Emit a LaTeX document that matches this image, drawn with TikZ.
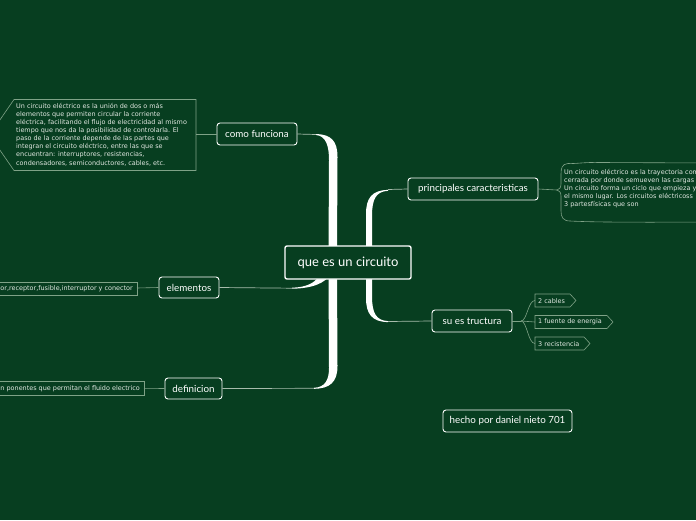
\documentclass[tikz,border=0pt]{standalone}
\usepackage{fontspec}
\setmainfont{Lato}
\newfontfamily\descfont{DejaVu Sans}
\usetikzlibrary{shapes.symbols}
\definecolor{bg}{HTML}{073E20}
\definecolor{edge}{HTML}{7FA287}
\definecolor{desctext}{HTML}{E2E8E2}
\definecolor{conn}{HTML}{A8BCAC}
\begin{document}
\begin{tikzpicture}[x=1pt,y=-1pt,
  topic/.style={draw=white, line width=0.9pt, rounded corners=3pt, fill=bg, text=white,
    font=\fontsize{9.8}{10}\selectfont, minimum height=22pt, inner sep=2pt},
  desc/.style={text=desctext, font=\descfont\fontsize{6.45}{8.1}\selectfont, align=left, inner sep=0pt},
  boxline/.style={draw=edge, line width=0.6pt},
  thin/.style={draw=conn, line width=0.7pt},
  trunk/.style={fill=white}]
\fill[bg] (0,0) rectangle (696,520);
\useasboundingbox (0,0) rectangle (696,520);

% coordinates for trunk ends
\coordinate (cfj) at (316,134.5);
\coordinate (dfj) at (314,388.3);
\coordinate (elj) at (292,288.2);
\coordinate (pcj) at (388,189.5);
\coordinate (stj) at (388,321.5);

% trunks
\fill[trunk] (316,134.1) .. controls (331,134.2) and (337.5,141) .. (337.5,157) -- (337,252) -- (328.5,252)
  -- (329,160) .. controls (329,146) and (326,135.8) .. (316,135) -- cycle;
\fill[trunk] (328.5,272) -- (337,272) -- (337.5,366) .. controls (337.5,382) and (330,388.6) .. (314,388.8)
  -- (314,387.8) .. controls (325,387.4) and (329,380) .. (329,368) -- cycle;
\fill[trunk] (330,274) .. controls (326,283) and (312,288.5) .. (292,288.7) -- (292,287.7)
  .. controls (306,287.4) and (316,283) .. (320,274) -- cycle;
\fill[trunk] (366,252) -- (366,214) .. controls (366,198) and (372,190.2) .. (388,189.9) -- (388,190.8)
  .. controls (376,191.5) and (372,199) .. (372,216) -- (372,252) -- cycle;
\fill[trunk] (366,272) -- (366,298) .. controls (366,314) and (372,321.8) .. (388,322.1) -- (388,321.1)
  .. controls (376,320.5) and (372,313) .. (372,296) -- (372,272) -- cycle;

% central node
\node[topic, line width=1.4pt, rounded corners=2pt, minimum width=126pt, minimum height=33pt,
  font=\fontsize{13}{14}\selectfont] (c) at (348,262.5) {que es un circuito};

% main topics
\node[topic, minimum width=80pt] (cf) at (257,134) {como funciona};
\node[topic, minimum width=130pt] (pc) at (473,189) {principales caracteristicas};
\node[topic, minimum width=60pt, minimum height=21pt] (el) at (189,287.5) {elementos};
\node[topic, minimum width=80pt] (st) at (472,321) {su es tructura};
\node[topic, minimum width=57pt, minimum height=21pt] (df) at (193.5,388.5) {definicion};
\node[topic, minimum width=129pt] (hp) at (507.5,421) {hecho por daniel nieto 701};

\draw[thin] (cf.east) -- (cfj);
\draw[thin] (df.east) -- (dfj);
\draw[thin] (el.east) -- (elj);
\draw[thin] (pcj) -- (pc.west);
\draw[thin] (stj) -- (st.west);

% description: como funciona
\draw[boxline] (14,99.5) -- (196,99.5) -- (196,170.5) -- (14,170.5) -- (-10.5,135) -- cycle;
\node[desc, anchor=north west] (d1) at (16,103) {Un circuito eléctrico es la unión de dos o más\\
elementos que permiten circular la corriente\\
eléctrica, facilitando el flujo de electricidad al mismo\\
tiempo que nos da la posibilidad de controlarla. El\\
paso de la corriente depende de las partes que\\
integran el circuito eléctrico, entre las que se\\
encuentran: interruptores, resistencias,\\
condensadores, semiconductores, cables, etc.};
\coordinate (d1r) at (196,134);
\draw[boxline] (cf.west) -- (d1r);

% description: principales caracteristicas
\draw[boxline] (710,163) -- (600,162.5) .. controls (585,162) and (575,164) .. (568,163.5)
  .. controls (562,164) and (561,168) .. (561,174) -- (561,184) .. controls (561,188) and (559,189.5) .. (557,190)
  .. controls (559,190.5) and (561,192) .. (561,196) -- (561,211) .. controls (561,217) and (563,221) .. (570,221)
  .. controls (590,222) and (620,222.5) .. (710,222);
\node[desc, anchor=north west] (d2) at (564,169.2) {Un circuito eléctrico es la trayectoria com\\
cerrada por donde semueven las cargas\\
Un circuito forma un ciclo que empieza y\\
el mismo lugar. Los circuitos eléctricoss\\
3 partesfísicas que son};
\coordinate (d2l) at (557,190);
\draw[boxline] (pc.east) -- (d2l);

% description: elementos
\draw[boxline] (-3,282) rectangle (137,295);
\node[desc, anchor=east] (d3) at (133,288.7) {or,receptor,fusible,interruptor y conector};
\coordinate (d3r) at (137,288);
\draw[boxline] (el.west) -- (d3r);

% description: definicion
\draw[boxline] (-3,381.5) rectangle (144,395);
\node[desc, anchor=east] (d4) at (140,388.5) {n ponentes que permitan el fluido electrico};
\coordinate (d4r) at (144,388.3);
\draw[boxline] (df.west) -- (d4r);

% structure tags
\draw[boxline] (535,294) -- (570,294) -- (576,300.5) -- (570,307) -- (535,307) -- cycle;
\node[desc, anchor=west] (t1) at (538,300.7) {2 cables};
\draw[boxline] (535,315.5) -- (607,315.5) -- (613,322) -- (607,328.5) -- (535,328.5) -- cycle;
\node[desc, anchor=west] (t2) at (538,322.2) {1 fuente de energia};
\draw[boxline] (535,337) -- (584,337) -- (590,343.5) -- (584,350) -- (535,350) -- cycle;
\node[desc, anchor=west] (t3) at (538,343.7) {3 recistencia};
\coordinate (sj) at (521,321);
\coordinate (t1w) at (535,300.5);
\coordinate (t2w) at (535,322);
\coordinate (t3w) at (535,343.5);
\draw[boxline] (st.east) -- (sj);
\draw[boxline] (sj) .. controls (527,321) and (528,300.5) .. (t1w);
\draw[boxline] (sj) -- (t2w);
\draw[boxline] (sj) .. controls (527,321) and (528,343.5) .. (t3w);
\end{tikzpicture}
\end{document}
